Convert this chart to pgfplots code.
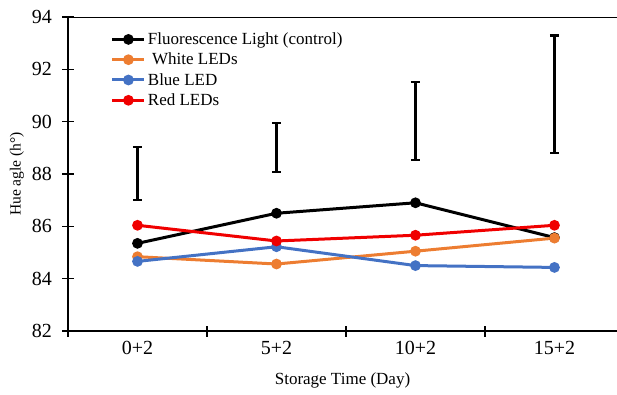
\documentclass[border=0pt]{standalone}
\usepackage{pgfplots}
\pgfplotsset{compat=1.18}
\usepackage{fontspec}
\setmainfont{Liberation Serif}
\definecolor{cblack}{RGB}{0,0,0}
\definecolor{corange}{RGB}{237,125,49}
\definecolor{cblue}{RGB}{68,114,196}
\definecolor{cred}{RGB}{240,0,0}
\begin{document}
\begin{tikzpicture}
\begin{axis}[
  scale only axis,
  width=549pt, height=314pt,
  xmin=-0.5, xmax=3.45,
  ymin=82, ymax=94,
  axis x line=bottom, axis y line=left,
  axis line style={line width=1.1pt, -},
  ytick={82,84,...,94},
  xtick={-0.5,0.5,1.5,2.5},
  xticklabels={},
  extra x ticks={0,1,2,3},
  extra x tick labels={0+2,5+2,10+2,15+2},
  extra x tick style={major tick length=0pt},
  tick align=center,
  major tick length=11pt,
  tick style={line width=1.1pt, black},
  /pgf/number format/assume math mode=true,
  tick label style={font=\fontsize{20}{24}\selectfont},
  yticklabel style={xshift=-7pt},
  xticklabel style={yshift=-7pt},
  xlabel={Storage Time (Day)},
  ylabel={Hue agle (h°)},
  xlabel style={at={(axis description cs:0.5,-0.158)}, anchor=center, font=\fontsize{17}{20}\selectfont},
  ylabel style={at={(axis description cs:-0.093,0.5)}, anchor=center, rotate=0, font=\fontsize{15.5}{18}\selectfont},
  legend style={at={(axis description cs:0.076,0.96)}, anchor=north west, draw=none, fill=none,
    font=\fontsize{17}{20}\selectfont, row sep=3pt, inner sep=1pt},
  legend cell align=left,
  legend image code/.code={\draw[mark repeat=2,mark phase=2,#1] plot coordinates {(0pt,0pt) (16pt,0pt) (32pt,0pt)};},
  every axis plot/.append style={line width=3pt, mark=*, mark size=3.8pt},
]
\addplot[color=cblack, mark options={solid}] coordinates {(0,85.35) (1,86.5) (2,86.9) (3,85.57)};
\addlegendentry{Fluorescence Light (control)}
\addplot[color=corange] coordinates {(0,84.84) (1,84.56) (2,85.05) (3,85.55)};
\addlegendentry{\ White LEDs}
\addplot[color=cblue] coordinates {(0,84.66) (1,85.22) (2,84.5) (3,84.43)};
\addlegendentry{Blue LED}
\addplot[color=cred] coordinates {(0,86.04) (1,85.44) (2,85.66) (3,86.04)};
\addlegendentry{Red LEDs}
\addplot[forget plot, draw=none, mark=none,
  error bars/.cd, y dir=both, y explicit,
  error bar style={draw=black, line width=2.4pt},
  error mark options={draw=black, rotate=90, mark size=4.5pt, line width=2.2pt}]
  table[x=x, y=y, y error=e] {
  x y e
  0 88.02 1.02
  1 89.015 0.925
  2 90.035 1.495
  3 91.04 2.25
  };
\draw[line width=1.1pt] (rel axis cs:0,1) -- (rel axis cs:1,1);
\coordinate (O) at (rel axis cs:0,0);
\end{axis}
\pgfresetboundingbox
\path[use as bounding box] ([shift={(-68pt,-63pt)}]O) rectangle ([shift={(549pt,331pt)}]O);
\end{tikzpicture}
\end{document}
